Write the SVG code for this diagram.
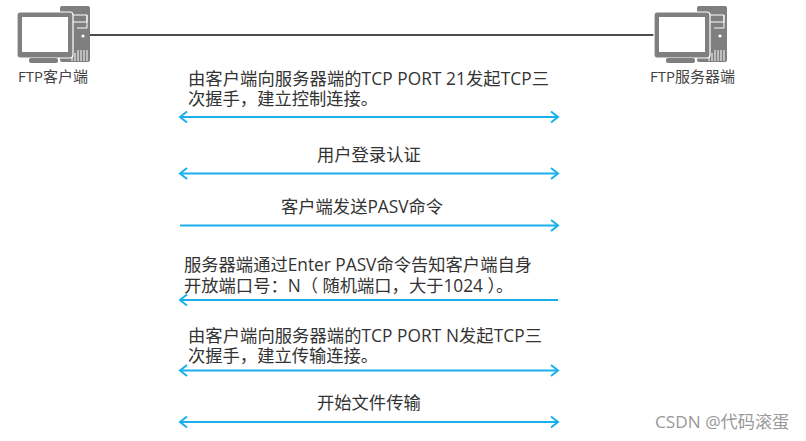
<svg xmlns="http://www.w3.org/2000/svg" width="806" height="441" viewBox="0 0 806 441">
<style>
text{font-family:"Open Sans","Noto Sans CJK SC",sans-serif;font-size:17.3px;fill:#333}
.lbl{font-size:15px;fill:#444}
.wm{font-size:17.2px;fill:#999}
.tower{fill:#7f7f7f}
.monitor{fill:#7f7f7f;stroke:#fff;stroke-width:1.2}
.screen{fill:#fff}
.detail{fill:none;stroke:#fff;stroke-width:1}
.flow{stroke:#19b0ec;stroke-width:2;fill:none}
.head{stroke:#19b0ec;stroke-width:2;fill:none}
</style>
<defs>
<marker id="a" markerUnits="userSpaceOnUse" markerWidth="14" markerHeight="14" refX="11" refY="7" orient="auto-start-reverse"><path class="head" d="M4 1.5L11 7L4 12.5"/></marker>
<g id="pc">
<rect class="tower" x="43" y="0" width="30" height="56" rx="2"/>
<path class="detail" d="M46 9H70V16M46 16H70M70 9V22H60"/>
<circle cx="66" cy="30" r="1.6" fill="#fff"/>
<path class="detail" d="M61 55V44M64 55V44M67 55V44M70 55V44M58 55V47M55 55V50"/>
<rect class="monitor" x="0" y="6" width="56" height="46" rx="3"/>
<rect class="screen" x="5" y="11" width="46" height="35"/>
<rect class="tower" x="12" y="52" width="29" height="5" rx="2"/>
</g>
</defs>
<g id="connectors">
<path d="M90 35H654" stroke="#111" stroke-width="1.6" fill="none"/>
<path class="flow" d="M180 117H558" marker-start="url(#a)" marker-end="url(#a)"/>
<path class="flow" d="M180 173.500H558" marker-start="url(#a)" marker-end="url(#a)"/>
<path class="flow" d="M180 225.500H558" marker-end="url(#a)"/>
<path class="flow" d="M558 300H180" marker-end="url(#a)"/>
<path class="flow" d="M180 370.500H558" marker-start="url(#a)" marker-end="url(#a)"/>
<path class="flow" d="M180 422H558" marker-start="url(#a)" marker-end="url(#a)"/>
</g>
<g id="client"><use href="#pc" x="17" y="6"/><text class="lbl" x="18" y="82">FTP客户端</text></g>
<g id="server"><use href="#pc" x="654" y="6"/><text class="lbl" x="650" y="82">FTP服务器端</text></g>
<g id="labels">
<text x="188" y="85" textLength="361">由客户端向服务器端的TCP PORT 21发起TCP三</text>
<text x="188" y="105">次握手，建立控制连接。</text>
<text x="317" y="161">用户登录认证</text>
<text x="281" y="213">客户端发送PASV命令</text>
<text x="184" y="271" textLength="348">服务器端通过Enter PASV命令告知客户端自身</text>
<text x="184" y="292">开放端口号：N（ 随机端口，大于1024 ）。</text>
<text x="188" y="342" textLength="354">由客户端向服务器端的TCP PORT N发起TCP三</text>
<text x="188" y="362">次握手，建立传输连接。</text>
<text x="317" y="409">开始文件传输</text>
</g>
<text class="wm" x="655" y="428">CSDN @代码滚蛋</text>
</svg>
